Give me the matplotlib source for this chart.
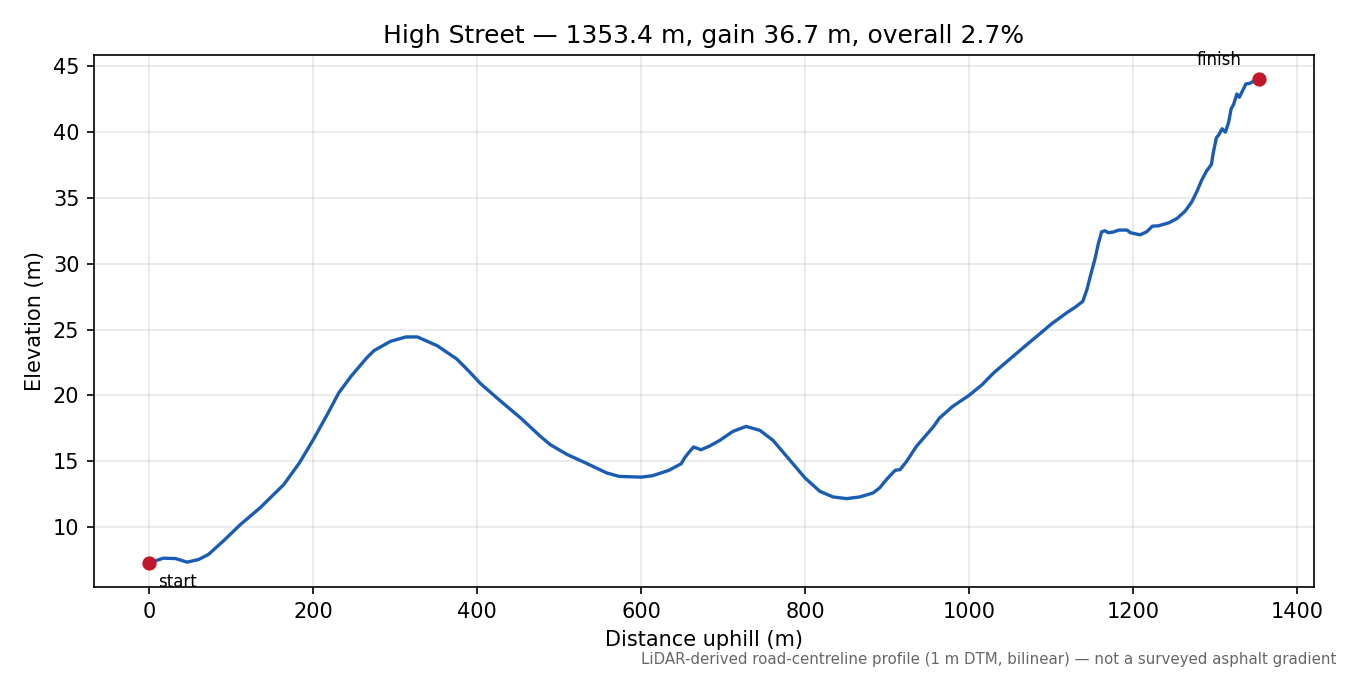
import matplotlib
matplotlib.use("Agg")
import matplotlib.pyplot as plt

# ── Profile (distance m, elevation m) ─────────────────────────────────────────
dist = [0, 17, 32, 46, 60, 72, 92, 111, 135, 164, 183, 200, 217, 231, 246, 265,
        274, 294, 313, 327, 351, 375, 390, 404, 428, 453, 477, 489, 510, 534,
        558, 573, 600, 614, 634, 649, 653, 657, 664, 673, 683, 696, 712, 728,
        745, 761, 781, 800, 818, 834, 851, 867, 883, 891, 900, 910, 916, 924,
        936, 957, 964, 980, 1000, 1016, 1030, 1049, 1069, 1085, 1101, 1120,
        1130, 1139, 1144, 1148, 1154, 1158, 1162, 1166, 1170, 1176, 1183, 1193,
        1197, 1209, 1217, 1224, 1231, 1244, 1254, 1264, 1272, 1278, 1284, 1290,
        1296, 1298, 1302, 1305, 1309, 1313, 1317, 1320, 1323, 1327, 1330, 1333,
        1338, 1343, 1347, 1353.4]
elev = [7.30, 7.65, 7.62, 7.35, 7.55, 7.93, 9.06, 10.2, 11.47, 13.24, 14.88,
        16.65, 18.55, 20.19, 21.45, 22.84, 23.4, 24.1, 24.44, 24.44, 23.78,
        22.77, 21.83, 20.9, 19.6, 18.29, 16.9, 16.27, 15.51, 14.83, 14.12,
        13.86, 13.8, 13.91, 14.32, 14.82, 15.25, 15.58, 16.09, 15.88, 16.14,
        16.59, 17.27, 17.65, 17.35, 16.59, 15.13, 13.74, 12.73, 12.3, 12.17,
        12.3, 12.6, 12.98, 13.66, 14.32, 14.37, 15.0, 16.14, 17.65, 18.28,
        19.16, 20.0, 20.81, 21.7, 22.71, 23.77, 24.6, 25.44, 26.3, 26.71,
        27.14, 28.03, 29.0, 30.4, 31.54, 32.42, 32.5, 32.35, 32.4, 32.55,
        32.55, 32.35, 32.19, 32.42, 32.85, 32.87, 33.1, 33.43, 34.0, 34.69,
        35.45, 36.33, 37.03, 37.54, 38.35, 39.56, 39.78, 40.24, 39.98, 40.74,
        41.75, 42.08, 42.88, 42.63, 43.0, 43.64, 43.69, 43.84, 44.0]

NAME = "High Street"
LENGTH = 1353.4
GAIN = 36.7
GRADE = 2.7
NOTE = ("LiDAR-derived road-centreline profile (1 m DTM, bilinear) "
        "\u2014 not a surveyed asphalt gradient")

LINE = "#1a5cb4"
DOT = "#c0182a"

fig = plt.figure(figsize=(9, 4.5), dpi=150)
ax = fig.add_axes([0.0696, 0.1304, 0.9037, 0.7881])

ax.plot(dist, elev, color=LINE, lw=1.6, zorder=3)
ax.scatter([dist[0], dist[-1]], [elev[0], elev[-1]], color=DOT, s=34, zorder=4)
ax.annotate("start", (dist[0], elev[0]), xytext=(4, -5),
            textcoords="offset points", ha="left", va="top", fontsize=8)
ax.annotate("finish", (dist[-1], elev[-1]), xytext=(-8, 5),
            textcoords="offset points", ha="right", va="bottom", fontsize=8)

ax.set_xticks(range(0, 1401, 200))
ax.set_yticks(range(10, 46, 5))
ax.grid(True, alpha=0.3)
ax.set_xlabel("Distance uphill (m)")
ax.set_ylabel("Elevation (m)")
ax.set_title(f"{NAME} \u2014 {LENGTH:.1f} m, gain {GAIN:.1f} m, overall {GRADE:.1f}%",
             fontsize=12)

fig.text(0.99, 0.012, NOTE, ha="right", va="bottom", fontsize=7.2, color="#666666")

fig.savefig("out.png", dpi=150, facecolor="white")
